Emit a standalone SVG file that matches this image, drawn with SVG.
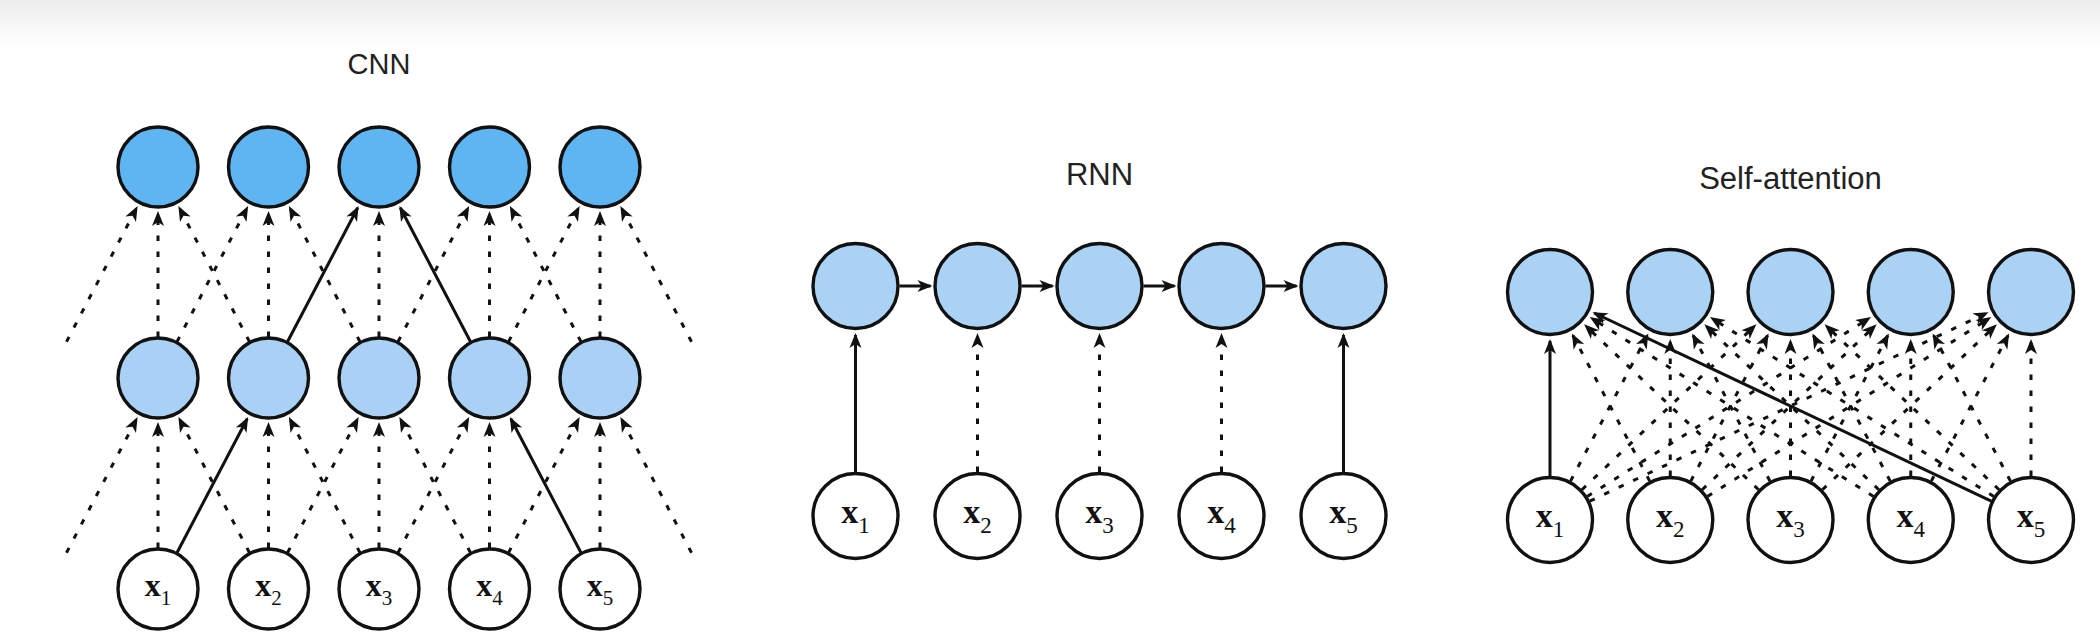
<svg xmlns="http://www.w3.org/2000/svg" width="2100" height="643" viewBox="0 0 2100 643">
<defs>
<linearGradient id="topband" x1="0" y1="0" x2="0" y2="1">
<stop offset="0" stop-color="#ececec"/>
<stop offset="1" stop-color="#ffffff"/>
</linearGradient>
<marker id="arr" viewBox="-14 -6.5 17 13" refX="0" refY="0" markerWidth="17" markerHeight="13" markerUnits="userSpaceOnUse" orient="auto">
<path d="M2,0 L-13,-6 L-9,0 L-13,6 Z" fill="#111"/>
</marker>
</defs>
<style>
.title{font-family:"Liberation Sans",Arial,sans-serif;fill:#222;text-anchor:middle}
.lbl{font-family:"Liberation Serif","Times New Roman",serif;font-weight:bold;font-size:34px;fill:#111;text-anchor:middle}
.sub{font-weight:normal;font-size:23px}
.lbl-s{font-size:32px}
.lbl-s .sub{font-size:21px}
.n{stroke:#111;stroke-width:3.4}
.cnn-top{fill:#5eb5f1}
.cnn-mid{fill:#a9d1f5}
.blue{fill:#a9d2f5}
.in{fill:#ffffff}
.e{stroke:#111;stroke-width:3;fill:none;marker-end:url(#arr)}
.d{stroke-dasharray:5.5 10.5}
</style>
<rect x="0" y="0" width="2100" height="643" fill="#ffffff"/>
<rect x="0" y="0" width="2100" height="48" fill="url(#topband)"/>

<text class="title" x="379" y="74" font-size="29">CNN</text>
<text class="title" x="1099.5" y="185" font-size="31">RNN</text>
<text class="title" x="1790.5" y="189" font-size="31">Self-attention</text>

<g id="connectors">
<!-- CNN input -> hidden 1 -->
<line class="e d" x1="66.5" y1="552.7" x2="136.7" y2="418.8"/>
<line class="e d" x1="158" y1="548" x2="158" y2="424"/>
<line class="e d" x1="249.5" y1="552.7" x2="179.3" y2="418.8"/>
<line class="e" x1="177" y1="552.7" x2="247.2" y2="418.8"/>
<line class="e d" x1="268.5" y1="548" x2="268.5" y2="424"/>
<line class="e d" x1="360" y1="552.7" x2="289.8" y2="418.8"/>
<line class="e d" x1="287.5" y1="552.7" x2="357.7" y2="418.8"/>
<line class="e d" x1="379" y1="548" x2="379" y2="424"/>
<line class="e d" x1="470.5" y1="552.7" x2="400.3" y2="418.8"/>
<line class="e d" x1="398" y1="552.7" x2="468.2" y2="418.8"/>
<line class="e d" x1="489.5" y1="548" x2="489.5" y2="424"/>
<line class="e" x1="581" y1="552.7" x2="510.8" y2="418.8"/>
<line class="e d" x1="508.5" y1="552.7" x2="578.7" y2="418.8"/>
<line class="e d" x1="600" y1="548" x2="600" y2="424"/>
<line class="e d" x1="691.5" y1="552.7" x2="621.3" y2="418.8"/>
<!-- CNN hidden 1 -> hidden 2 -->
<line class="e d" x1="66.5" y1="341.7" x2="136.7" y2="207.8"/>
<line class="e d" x1="158" y1="337" x2="158" y2="213"/>
<line class="e d" x1="249.5" y1="341.7" x2="179.3" y2="207.8"/>
<line class="e d" x1="177" y1="341.7" x2="247.2" y2="207.8"/>
<line class="e d" x1="268.5" y1="337" x2="268.5" y2="213"/>
<line class="e d" x1="360" y1="341.7" x2="289.8" y2="207.8"/>
<line class="e" x1="287.5" y1="341.7" x2="357.7" y2="207.8"/>
<line class="e d" x1="379" y1="337" x2="379" y2="213"/>
<line class="e" x1="470.5" y1="341.7" x2="400.3" y2="207.8"/>
<line class="e d" x1="398" y1="341.7" x2="468.2" y2="207.8"/>
<line class="e d" x1="489.5" y1="337" x2="489.5" y2="213"/>
<line class="e d" x1="581" y1="341.7" x2="510.8" y2="207.8"/>
<line class="e d" x1="508.5" y1="341.7" x2="578.7" y2="207.8"/>
<line class="e d" x1="600" y1="337" x2="600" y2="213"/>
<line class="e d" x1="691.5" y1="341.7" x2="621.3" y2="207.8"/>
<!-- RNN -->
<line class="e" x1="899.5" y1="286" x2="930.5" y2="286"/>
<line class="e" x1="1021.5" y1="286" x2="1052.5" y2="286"/>
<line class="e" x1="1143.5" y1="286" x2="1174.5" y2="286"/>
<line class="e" x1="1265.5" y1="286" x2="1296.5" y2="286"/>
<line class="e" x1="855.5" y1="472" x2="855.5" y2="335"/>
<line class="e d" x1="977.5" y1="472" x2="977.5" y2="335"/>
<line class="e d" x1="1099.5" y1="472" x2="1099.5" y2="335"/>
<line class="e d" x1="1221.5" y1="472" x2="1221.5" y2="335"/>
<line class="e" x1="1343.5" y1="472" x2="1343.5" y2="335"/>
<!-- Self-attention -->
<line class="e" x1="1550" y1="476" x2="1550" y2="341"/>
<line class="e d" x1="1570.53" y1="481.08" x2="1647.39" y2="335.34"/>
<line class="e d" x1="1581.93" y1="489.73" x2="1754.94" y2="325.71"/>
<line class="e d" x1="1587.19" y1="496.49" x2="1869.33" y2="318.18"/>
<line class="e d" x1="1589.76" y1="501.15" x2="1986.72" y2="312.99"/>
<line class="e d" x1="1649.72" y1="481.08" x2="1572.86" y2="335.34"/>
<line class="e d" x1="1670.25" y1="476" x2="1670.25" y2="341"/>
<line class="e d" x1="1690.78" y1="481.08" x2="1767.64" y2="335.34"/>
<line class="e d" x1="1702.18" y1="489.73" x2="1875.19" y2="325.71"/>
<line class="e d" x1="1707.44" y1="496.49" x2="1989.58" y2="318.18"/>
<line class="e d" x1="1758.57" y1="489.73" x2="1585.56" y2="325.71"/>
<line class="e d" x1="1769.97" y1="481.08" x2="1693.11" y2="335.34"/>
<line class="e d" x1="1790.5" y1="476" x2="1790.5" y2="341"/>
<line class="e d" x1="1811.03" y1="481.08" x2="1887.89" y2="335.34"/>
<line class="e d" x1="1822.43" y1="489.73" x2="1995.44" y2="325.71"/>
<line class="e d" x1="1873.56" y1="496.49" x2="1591.42" y2="318.18"/>
<line class="e d" x1="1878.82" y1="489.73" x2="1705.81" y2="325.71"/>
<line class="e d" x1="1890.22" y1="481.08" x2="1813.36" y2="335.34"/>
<line class="e d" x1="1910.75" y1="476" x2="1910.75" y2="341"/>
<line class="e d" x1="1931.28" y1="481.08" x2="2008.14" y2="335.34"/>
<line class="e" x1="1991.24" y1="501.15" x2="1594.28" y2="312.99"/>
<line class="e d" x1="1993.81" y1="496.49" x2="1711.67" y2="318.18"/>
<line class="e d" x1="1999.07" y1="489.73" x2="1826.06" y2="325.71"/>
<line class="e d" x1="2010.47" y1="481.08" x2="1933.61" y2="335.34"/>
<line class="e d" x1="2031" y1="476" x2="2031" y2="341"/>
</g>

<!-- CNN nodes -->
<g id="cnn-h2-1"><circle class="n cnn-top" cx="158" cy="167" r="40"/></g>
<g id="cnn-h2-2"><circle class="n cnn-top" cx="268.5" cy="167" r="40"/></g>
<g id="cnn-h2-3"><circle class="n cnn-top" cx="379" cy="167" r="40"/></g>
<g id="cnn-h2-4"><circle class="n cnn-top" cx="489.5" cy="167" r="40"/></g>
<g id="cnn-h2-5"><circle class="n cnn-top" cx="600" cy="167" r="40"/></g>
<g id="cnn-h1-1"><circle class="n cnn-mid" cx="158" cy="378" r="40"/></g>
<g id="cnn-h1-2"><circle class="n cnn-mid" cx="268.5" cy="378" r="40"/></g>
<g id="cnn-h1-3"><circle class="n cnn-mid" cx="379" cy="378" r="40"/></g>
<g id="cnn-h1-4"><circle class="n cnn-mid" cx="489.5" cy="378" r="40"/></g>
<g id="cnn-h1-5"><circle class="n cnn-mid" cx="600" cy="378" r="40"/></g>
<g id="cnn-x1"><circle class="n in" cx="158" cy="589" r="40"/><text class="lbl lbl-s" x="158" y="596">x<tspan class="sub" dy="9">1</tspan></text></g>
<g id="cnn-x2"><circle class="n in" cx="268.5" cy="589" r="40"/><text class="lbl lbl-s" x="268.5" y="596">x<tspan class="sub" dy="9">2</tspan></text></g>
<g id="cnn-x3"><circle class="n in" cx="379" cy="589" r="40"/><text class="lbl lbl-s" x="379" y="596">x<tspan class="sub" dy="9">3</tspan></text></g>
<g id="cnn-x4"><circle class="n in" cx="489.5" cy="589" r="40"/><text class="lbl lbl-s" x="489.5" y="596">x<tspan class="sub" dy="9">4</tspan></text></g>
<g id="cnn-x5"><circle class="n in" cx="600" cy="589" r="40"/><text class="lbl lbl-s" x="600" y="596">x<tspan class="sub" dy="9">5</tspan></text></g>

<!-- RNN nodes -->
<g id="rnn-h1"><circle class="n blue" cx="855.5" cy="286" r="42.5"/></g>
<g id="rnn-h2"><circle class="n blue" cx="977.5" cy="286" r="42.5"/></g>
<g id="rnn-h3"><circle class="n blue" cx="1099.5" cy="286" r="42.5"/></g>
<g id="rnn-h4"><circle class="n blue" cx="1221.5" cy="286" r="42.5"/></g>
<g id="rnn-h5"><circle class="n blue" cx="1343.5" cy="286" r="42.5"/></g>
<g id="rnn-x1"><circle class="n in" cx="855.5" cy="516" r="42.5"/><text class="lbl" x="855.5" y="523">x<tspan class="sub" dy="10">1</tspan></text></g>
<g id="rnn-x2"><circle class="n in" cx="977.5" cy="516" r="42.5"/><text class="lbl" x="977.5" y="523">x<tspan class="sub" dy="10">2</tspan></text></g>
<g id="rnn-x3"><circle class="n in" cx="1099.5" cy="516" r="42.5"/><text class="lbl" x="1099.5" y="523">x<tspan class="sub" dy="10">3</tspan></text></g>
<g id="rnn-x4"><circle class="n in" cx="1221.5" cy="516" r="42.5"/><text class="lbl" x="1221.5" y="523">x<tspan class="sub" dy="10">4</tspan></text></g>
<g id="rnn-x5"><circle class="n in" cx="1343.5" cy="516" r="42.5"/><text class="lbl" x="1343.5" y="523">x<tspan class="sub" dy="10">5</tspan></text></g>

<!-- Self-attention nodes -->
<g id="sa-h1"><circle class="n blue" cx="1550" cy="292" r="42.5"/></g>
<g id="sa-h2"><circle class="n blue" cx="1670.25" cy="292" r="42.5"/></g>
<g id="sa-h3"><circle class="n blue" cx="1790.5" cy="292" r="42.5"/></g>
<g id="sa-h4"><circle class="n blue" cx="1910.75" cy="292" r="42.5"/></g>
<g id="sa-h5"><circle class="n blue" cx="2031" cy="292" r="42.5"/></g>
<g id="sa-x1"><circle class="n in" cx="1550" cy="520" r="42.5"/><text class="lbl" x="1550" y="527">x<tspan class="sub" dy="10">1</tspan></text></g>
<g id="sa-x2"><circle class="n in" cx="1670.25" cy="520" r="42.5"/><text class="lbl" x="1670.25" y="527">x<tspan class="sub" dy="10">2</tspan></text></g>
<g id="sa-x3"><circle class="n in" cx="1790.5" cy="520" r="42.5"/><text class="lbl" x="1790.5" y="527">x<tspan class="sub" dy="10">3</tspan></text></g>
<g id="sa-x4"><circle class="n in" cx="1910.75" cy="520" r="42.5"/><text class="lbl" x="1910.75" y="527">x<tspan class="sub" dy="10">4</tspan></text></g>
<g id="sa-x5"><circle class="n in" cx="2031" cy="520" r="42.5"/><text class="lbl" x="2031" y="527">x<tspan class="sub" dy="10">5</tspan></text></g>
</svg>
